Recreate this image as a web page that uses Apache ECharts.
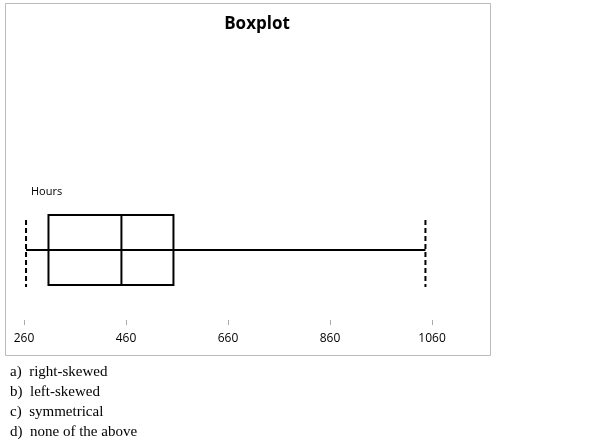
<!DOCTYPE html><html><head><meta charset="utf-8"><script src="https://cdn.jsdelivr.net/npm/echarts@6/dist/echarts.min.js"></script></head><body style="margin:0"><div id="c" style="width:600px;height:448px"></div><script>
const categories=['Hours'];
const stats=[[264,308,451,553,1047]];
const ticks=[260,460,660,860,1060];
const answers=['a)  right-skewed','b)  left-skewed','c)  symmetrical','d)  none of the above'];
const ch=echarts.init(document.getElementById('c'));
ch.setOption({animation:false,
title:{text:'Boxplot',left:252,top:11,textAlign:'center',textStyle:{fontFamily:'Open Sans',fontWeight:'bold',fontSize:17,color:'#000'}},
grid:{left:24,right:121,top:180,bottom:128},
xAxis:{type:'value',min:260,max:1152,interval:200,axisLine:{lineStyle:{color:'#aaa'}},axisTick:{show:true,length:5,inside:false,customValues:ticks,lineStyle:{color:'#aaa'}},
axisLabel:{customValues:ticks,formatter:v=>String(v),color:'#000',fontFamily:'Open Sans',fontSize:12,margin:13},splitLine:{show:false}},
yAxis:{type:'category',data:categories,show:false},
graphic:[{type:'rect',shape:{x:5.5,y:3.5,width:485,height:352},style:{fill:'none',stroke:'#bbb',lineWidth:1}},
{type:'text',left:31,top:186,style:{text:'Hours',font:'11px "Open Sans"',fill:'#000'}},
{type:'text',left:10,top:362,style:{text:answers.join('\n'),font:'15px "Liberation Serif"',fill:'#000',lineHeight:20}}],
series:[{type:'custom',data:stats.map((s,i)=>[i].concat(s)),encode:{x:[1,2,3,4,5],y:0},renderItem:(p,api)=>{
const y=api.coord([0,api.value(0)])[1];const x=[1,2,3,4,5].map(k=>api.coord([api.value(k),0])[0]);
const h=35,st={stroke:'#000',lineWidth:2,fill:'none'};
const ds={stroke:'#000',lineWidth:2,lineDash:[5,3]};
return {type:'group',children:[
{type:'line',shape:{x1:x[0],y1:y,x2:x[4],y2:y},style:st},
{type:'rect',shape:{x:x[1],y:y-h,width:x[3]-x[1],height:2*h},style:{stroke:'#000',lineWidth:2,fill:'#fff'}},
{type:'line',shape:{x1:x[1],y1:y,x2:x[3],y2:y},style:st},
{type:'line',shape:{x1:x[2],y1:y-h,x2:x[2],y2:y+h},style:st},
{type:'line',shape:{x1:x[0],y1:y-30,x2:x[0],y2:y+37},style:ds},
{type:'line',shape:{x1:x[4],y1:y-30,x2:x[4],y2:y+37},style:ds}]};}}]});
</script></body></html>
